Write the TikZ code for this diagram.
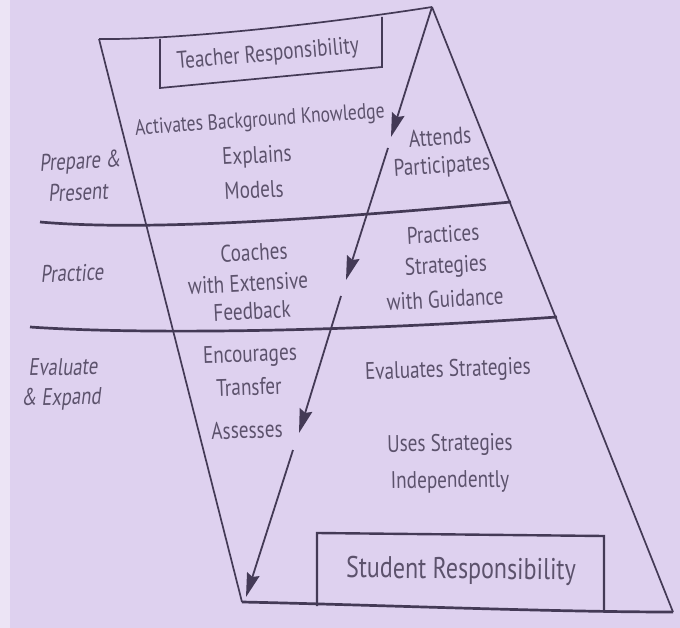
\documentclass[tikz,border=0pt]{standalone}
\usepackage{fontspec}
\setmainfont{PT Sans}[FakeStretch=0.8]
\newfontfamily\slantfam{PT Sans}[FakeStretch=0.78, FakeSlant=0.14]
\usetikzlibrary{arrows.meta}
\definecolor{bg}{RGB}{222,209,239}
\definecolor{bgl}{RGB}{236,228,245}
\definecolor{ink}{RGB}{68,58,86}
\definecolor{txt}{RGB}{92,82,108}
\begin{document}
\begin{tikzpicture}[x=1pt,y=-1pt,
  lbl/.style={text=txt, font=\fontsize{24}{26}\selectfont, inner sep=0pt},
  sidelbl/.style={lbl, font=\fontsize{24}{26}\slantfam},
  bigl/.style={lbl, font=\fontsize{30}{32}\selectfont},
  thinl/.style={draw=ink, line width=1.7pt},
  thickl/.style={draw=ink, line width=2.7pt},
  arr/.style={draw=ink, line width=1.8pt, -{Stealth[length=24pt,width=13pt,inset=3pt]}}]
\useasboundingbox (0,0) rectangle (680,628);
\fill[bg] (0,0) rectangle (680,628);
\fill[bgl] (0,0) rectangle (10,628);
% corners
\coordinate (TL) at (99,39);
\coordinate (TR) at (432,7);
\coordinate (BL) at (242,602);
\coordinate (BR) at (673,612);
% teacher box
\coordinate (TB1) at (160,39);
\coordinate (TB2) at (160,88);
\coordinate (TB3) at (382,67);
\coordinate (TB4) at (382,17);
% student box
\coordinate (SB1) at (317,606);
\coordinate (SB2) at (317,533);
\coordinate (SB3) at (604,536);
\coordinate (SB4) at (604,611);
% dividers
\coordinate (A0) at (40,222);
\coordinate (A1) at (511,202);
\coordinate (B0) at (30,327);
\coordinate (B1) at (557,317);
% arrow segments
\coordinate (S1a) at (432,7);   \coordinate (S1b) at (391,137);
\coordinate (S2a) at (388,148); \coordinate (S2b) at (346,280);
\coordinate (S3a) at (341,296); \coordinate (S3b) at (299,433);
\coordinate (S4a) at (293,450); \coordinate (S4b) at (246,597);

% frame
\draw[thinl] (TL) .. controls (180,40) and (330,23) .. (TR);
\draw[thinl] (TL) -- (BL);
\draw[thinl] (TR) -- (BR);
\draw[thickl] (BL) .. controls (380,605) and (550,612) .. (BR);
\draw[thinl] (TB1) -- (TB2) -- (TB3) -- (TB4);
\draw[thickl, line width=2.4pt] (SB1) -- (SB2) -- (SB3) -- (SB4);
\draw[thickl] (A0) .. controls (120,229) and (250,226) .. (A1);
\draw[thickl] (B0) .. controls (130,334) and (330,333) .. (B1);
% arrows
\draw[arr] (S1a) -- (S1b);
\draw[arr] (S2a) -- (S2b);
\draw[arr] (S3a) -- (S3b);
\draw[arr] (S4a) -- (S4b);

% texts
\node[lbl, rotate=5] (tr) at (268,55) {Teacher Responsibility};
\node[lbl, rotate=4, font=\fontsize{22}{24}\selectfont] (act) at (260,121) {Activates Background Knowledge};
\node[lbl, rotate=3] (exp) at (257,157) {Explains};
\node[lbl, rotate=3] (mod) at (254,190) {Models};
\node[lbl, rotate=4] (att) at (440,137) {Attends};
\node[lbl, rotate=4] (par) at (442,167) {Participates};
\node[sidelbl, rotate=3] (pp1) at (80,163) {Prepare \&};
\node[sidelbl, rotate=3] (pp2) at (78,192) {Present};
\node[sidelbl, rotate=2] (prc) at (72,273) {Practice};
\node[lbl, rotate=3] (co1) at (254,252) {Coaches};
\node[lbl, rotate=3] (co2) at (248,283) {with Extensive};
\node[lbl, rotate=3] (co3) at (252,311) {Feedback};
\node[lbl, rotate=3] (ps1) at (443,234) {Practices};
\node[lbl, rotate=3] (ps2) at (446,267) {Strategies};
\node[lbl, rotate=3] (ps3) at (445,299) {with Guidance};
\node[sidelbl, rotate=1] (ev1) at (63,367) {Evaluate};
\node[sidelbl, rotate=1] (ev2) at (61,399) {\& Expand};
\node[lbl, rotate=2] (en1) at (250,356) {Encourages};
\node[lbl, rotate=2] (en2) at (249,387) {Transfer};
\node[lbl, rotate=2] (ass) at (247,430) {Assesses};
\node[lbl, rotate=2] (evs) at (448,371) {Evaluates Strategies};
\node[lbl, rotate=1] (us1) at (450,445) {Uses Strategies};
\node[lbl, rotate=1] (us2) at (450,482) {Independently};
\node[bigl, rotate=-0.5] (sr) at (461,571) {Student Responsibility};
\end{tikzpicture}
\end{document}
